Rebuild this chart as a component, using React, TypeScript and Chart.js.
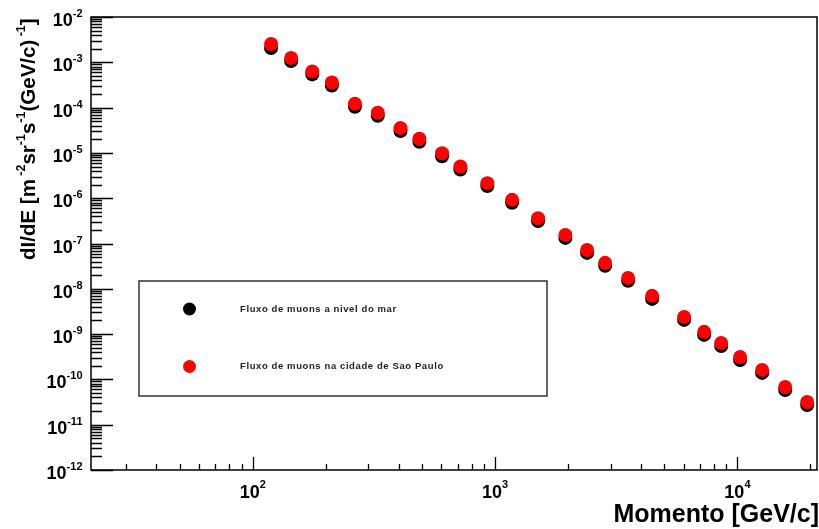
import { useEffect, useRef } from 'react';
import { Chart, registerables } from 'chart.js';

Chart.register(...registerables);

// Muon momentum [GeV/c]
const momentum = [
  119, 144, 176, 212, 264, 328, 407, 487, 604, 719, 929, 1175, 1504,
  1950, 2397, 2845, 3540, 4446, 6026, 7289, 8570, 10257, 12647, 15740, 19400,
];

// Differential flux at sea level
const fluxSeaLevel = [
  2.07e-3, 1.07e-3, 5.4e-4, 3.08e-4, 1.04e-4, 6.6e-5, 3.03e-5, 1.76e-5, 8.4e-6,
  4.3e-6, 1.85e-6, 7.9e-7, 3.12e-7, 1.33e-7, 6.2e-8, 3.21e-8, 1.5e-8, 5.99e-9,
  2.06e-9, 9.6e-10, 5.48e-10, 2.69e-10, 1.39e-10, 5.85e-11, 2.73e-11,
];

// Differential flux in the city of São Paulo
const fluxSaoPaulo = [
  2.53e-3, 1.24e-3, 6.29e-4, 3.59e-4, 1.22e-4, 7.69e-5, 3.53e-5, 2.05e-5, 9.8e-6,
  5.01e-6, 2.15e-6, 9.2e-7, 3.63e-7, 1.55e-7, 7.2e-8, 3.74e-8, 1.74e-8, 6.98e-9,
  2.4e-9, 1.12e-9, 6.38e-10, 3.13e-10, 1.62e-10, 6.82e-11, 3.18e-11,
];

const seriesLabels = ['Fluxo de muons a nivel do mar', 'Fluxo de muons na cidade de Sao Paulo'];
const seriesColors = ['#000000', '#ff0000'];

// Decade exponents carrying tick labels
const xLabelExponents = [2, 3, 4];
const yLabelExponents = [-2, -3, -4, -5, -6, -7, -8, -9, -10, -11, -12];

const xTitle = 'Momento [GeV/c]';
// Rich-text pieces of the y title: [text, isSuperscript]
const yTitleParts: [string, boolean][] = [
  ['dI/dE [m', false],
  [' -2', true],
  ['sr', false],
  ['-1', true],
  ['s', false],
  ['-1', true],
  ['(GeV/c)', false],
  [' -1', true],
  [']', false],
];

const FONT = '"Liberation Sans", Arial, Helvetica, sans-serif';

type Part = [string, boolean];

function measureRich(ctx: CanvasRenderingContext2D, parts: Part[], size: number, supSize: number) {
  let w = 0;
  for (const [t, sup] of parts) {
    ctx.font = `bold ${sup ? supSize : size}px ${FONT}`;
    w += ctx.measureText(t).width;
  }
  return w;
}

function drawRich(
  ctx: CanvasRenderingContext2D,
  parts: Part[],
  x: number,
  y: number,
  size: number,
  supSize: number,
  rise: number,
) {
  let cx = x;
  ctx.textAlign = 'left';
  ctx.textBaseline = 'alphabetic';
  for (const [t, sup] of parts) {
    ctx.font = `bold ${sup ? supSize : size}px ${FONT}`;
    ctx.fillText(t, cx, sup ? y - rise : y);
    cx += ctx.measureText(t).width;
  }
}

function logTicks(min: number, max: number) {
  const out: { v: number; major: boolean }[] = [];
  const lo = Math.floor(Math.log10(min));
  const hi = Math.ceil(Math.log10(max));
  for (let d = lo; d <= hi; d++) {
    for (let k = 1; k <= 9; k++) {
      const v = k * Math.pow(10, d);
      if (v >= min * 0.9999 && v <= max * 1.0001) out.push({ v, major: k === 1 });
    }
  }
  return out;
}

const frameAndText = {
  id: 'frameAndText',
  afterDraw(chart: Chart) {
    const { ctx, chartArea: a } = chart;
    const xs = chart.scales.x;
    const ys = chart.scales.y;
    ctx.save();
    ctx.strokeStyle = '#000';
    ctx.fillStyle = '#000';
    ctx.lineWidth = 1.5;

    // frame
    ctx.strokeRect(a.left, a.top, a.right - a.left, a.bottom - a.top);

    // inner ticks on the y axis
    ctx.lineWidth = 1.3;
    ctx.beginPath();
    for (const t of logTicks(ys.min, ys.max)) {
      const py = Math.round(ys.getPixelForValue(t.v)) + 0.5;
      ctx.moveTo(a.left, py);
      ctx.lineTo(a.left + (t.major ? 22 : 11), py);
    }
    // inner ticks on the x axis
    for (const t of logTicks(xs.min, xs.max)) {
      const px = Math.round(xs.getPixelForValue(t.v)) + 0.5;
      ctx.moveTo(px, a.bottom);
      ctx.lineTo(px, a.bottom - (t.major ? 13 : 6));
    }
    ctx.stroke();

    const size = 18;
    const supSize = 11;

    // x tick labels
    for (const e of xLabelExponents) {
      const parts: Part[] = [['10', false], [String(e), true]];
      const w = measureRich(ctx, parts, size, supSize);
      const px = xs.getPixelForValue(Math.pow(10, e));
      drawRich(ctx, parts, px - w / 2, a.bottom + 28, size, supSize, 10);
    }

    // y tick labels
    for (const e of yLabelExponents) {
      const parts: Part[] = [['10', false], [String(e), true]];
      const w = measureRich(ctx, parts, size, supSize);
      const py = ys.getPixelForValue(Math.pow(10, e));
      drawRich(ctx, parts, a.left - 8.5 - w, py + 9, size, supSize, 9);
    }

    // x title
    ctx.font = `bold 25px ${FONT}`;
    ctx.textAlign = 'right';
    ctx.textBaseline = 'alphabetic';
    ctx.fillText(xTitle, a.right + 2, 522);

    // y title
    ctx.save();
    ctx.translate(35, 260);
    ctx.rotate(-Math.PI / 2);
    drawRich(ctx, yTitleParts, 0, 0, 20.5, 12.5, 10);
    ctx.restore();

    // legend box
    const lx = 139;
    const ly = 281;
    const lw = 408;
    const lh = 115;
    ctx.fillStyle = '#fff';
    ctx.fillRect(lx, ly, lw, lh);
    ctx.strokeStyle = '#333';
    ctx.lineWidth = 1.5;
    ctx.strokeRect(lx, ly, lw, lh);
    const rows = [309, 366.5];
    rows.forEach((ry, i) => {
      ctx.fillStyle = seriesColors[i];
      ctx.beginPath();
      ctx.arc(189.5, ry, 6.5, 0, Math.PI * 2);
      ctx.fill();
      ctx.fillStyle = '#222';
      ctx.font = `bold 9.5px ${FONT}`;
      (ctx as any).letterSpacing = '0.6px';
      ctx.textAlign = 'left';
      ctx.textBaseline = 'middle';
      ctx.fillText(seriesLabels[i], 240, ry);
      (ctx as any).letterSpacing = '0px';
    });

    ctx.restore();
  },
};

export default function App() {
  const ref = useRef<HTMLCanvasElement>(null);

  useEffect(() => {
    if (!ref.current) return;
    const chart = new Chart(ref.current, {
      type: 'scatter',
      data: {
        datasets: [
          {
            label: seriesLabels[1],
            data: momentum.map((x, i) => ({ x, y: fluxSaoPaulo[i] })),
            backgroundColor: seriesColors[1],
            borderWidth: 0,
            pointRadius: 7,
            order: 0,
          },
          {
            label: seriesLabels[0],
            data: momentum.map((x, i) => ({ x, y: fluxSeaLevel[i] })),
            backgroundColor: seriesColors[0],
            borderWidth: 0,
            pointRadius: 7,
            order: 1,
          },
        ],
      },
      options: {
        animation: false,
        responsive: false,
        devicePixelRatio: 1,
        layout: { autoPadding: false, padding: { left: 91, top: 17, right: 2, bottom: 59 } },
        plugins: { legend: { display: false }, tooltip: { enabled: false } },
        scales: {
          x: { type: 'logarithmic', min: 21.5, max: 21300, display: false },
          y: { type: 'logarithmic', min: 1e-12, max: 1e-2, display: false },
        },
      },
      plugins: [frameAndText],
    });
    return () => chart.destroy();
  }, []);

  return (
    <div style={{ position: 'fixed', left: 0, top: 0, width: 819, height: 529, background: '#fff' }}>
      <canvas ref={ref} width={819} height={529} style={{ display: 'block' }} />
    </div>
  );
}
